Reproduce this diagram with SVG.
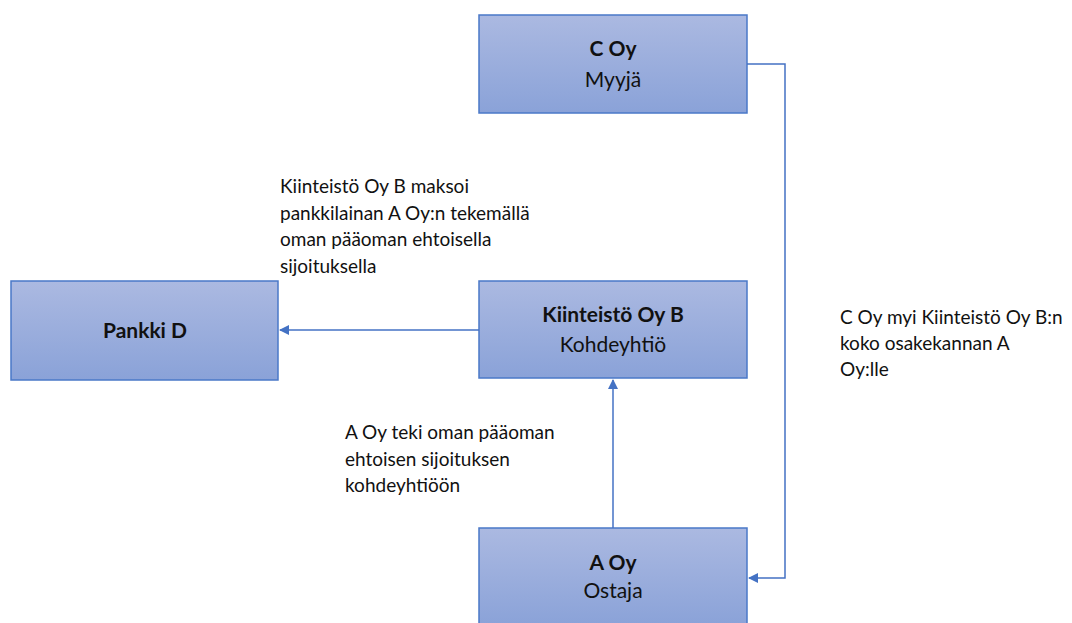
<svg xmlns="http://www.w3.org/2000/svg" width="1072" height="623" viewBox="0 0 1072 623">
<defs>
<linearGradient id="g" x1="0" y1="0" x2="0" y2="1">
<stop offset="0" stop-color="#abb9e1"/>
<stop offset="1" stop-color="#8aa2d8"/>
</linearGradient>
<marker id="ah" viewBox="0 0 10 10" refX="9" refY="5" markerWidth="10" markerHeight="10" markerUnits="userSpaceOnUse" orient="auto">
<path d="M0,0 L10,5 L0,10 Z" fill="#4472c4"/>
</marker>
<style>
.box{fill:url(#g);stroke:#4a78c8;stroke-width:1.5}
.t{font-family:Lato,"Open Sans","Liberation Sans",sans-serif;font-size:21px;fill:#111;text-anchor:middle}
.b{font-weight:bold}
.l{font-family:Lato,"Open Sans","Liberation Sans",sans-serif;font-size:19px;fill:#111}
.c{fill:none;stroke:#4472c4;stroke-width:1.5}
</style>
</defs>
<rect width="1072" height="623" fill="#fff"/>
<g id="node-coy">
<rect class="box" x="479" y="15" width="268" height="98"/>
<text class="t b" x="613" y="56">C Oy</text>
<text class="t" x="613" y="87">Myyjä</text>
</g>
<g id="node-pankki">
<rect class="box" x="11" y="281" width="267" height="99"/>
<text class="t b" x="145" y="338">Pankki D</text>
</g>
<g id="node-b">
<rect class="box" x="479" y="281" width="268" height="97"/>
<text class="t b" x="613" y="322">Kiinteistö Oy B</text>
<text class="t" x="613" y="352">Kohdeyhtiö</text>
</g>
<g id="node-aoy">
<rect class="box" x="479" y="528" width="268" height="98"/>
<text class="t b" x="613" y="570">A Oy</text>
<text class="t" x="613" y="598">Ostaja</text>
</g>
<g id="connectors">
<path class="c" d="M747,64 H785 V578 H749" marker-end="url(#ah)"/>
<path class="c" d="M479,330 H280" marker-end="url(#ah)"/>
<path class="c" d="M613,528 V380" marker-end="url(#ah)"/>
</g>
<g id="labels">
<text class="l" x="280" y="193">Kiinteistö Oy B maksoi</text>
<text class="l" x="280" y="219.5">pankkilainan A Oy:n tekemällä</text>
<text class="l" x="280" y="246">oman pääoman ehtoisella</text>
<text class="l" x="280" y="272.5">sijoituksella</text>
<text class="l" x="345" y="439">A Oy teki oman pääoman</text>
<text class="l" x="345" y="465.5">ehtoisen sijoituksen</text>
<text class="l" x="345" y="492">kohdeyhtiöön</text>
<text class="l" x="840" y="324">C Oy myi Kiinteistö Oy B:n</text>
<text class="l" x="840" y="350">koko osakekannan A</text>
<text class="l" x="840" y="376">Oy:lle</text>
</g>
</svg>
